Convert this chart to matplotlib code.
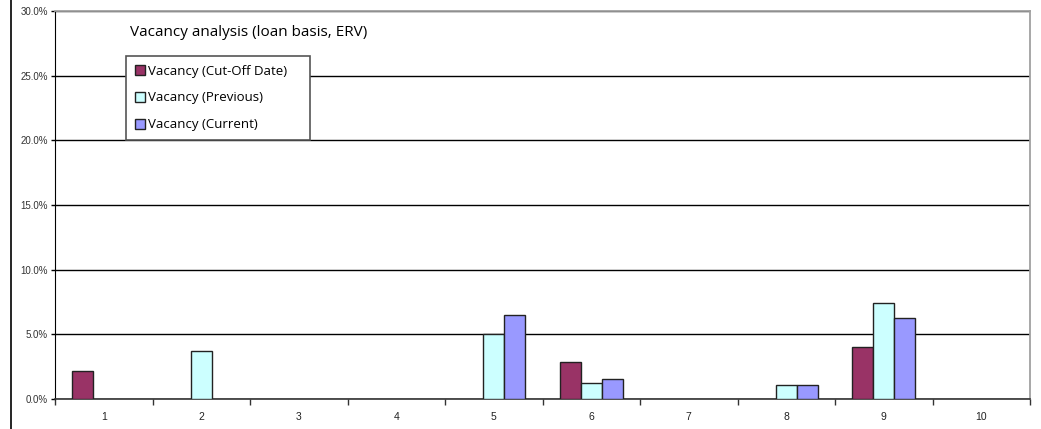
import matplotlib
matplotlib.use("Agg")
import matplotlib.pyplot as plt
from matplotlib.lines import Line2D
from matplotlib.ticker import FixedLocator, PercentFormatter
import numpy as np

categories = ["1", "2", "3", "4", "5", "6", "7", "8", "9", "10"]
vacancy_cutoff = [2.15, 0.0, 0.0, 0.0, 0.0, 2.89, 0.0, 0.0, 4.0, 0.0]
vacancy_previous = [0.0, 3.74, 0.0, 0.0, 5.0, 1.2, 0.0, 1.1, 7.46, 0.0]
vacancy_current = [0.0, 0.0, 0.0, 0.0, 6.5, 1.58, 0.0, 1.1, 6.25, 0.0]
series_labels = ["Vacancy (Cut-Off Date)", "Vacancy (Previous)", "Vacancy (Current)"]
series_colors = ["#993366", "#CCFFFF", "#9999FF"]
y_ticks = [0, 5, 10, 15, 20, 25, 30]

fig = plt.figure(figsize=(10.41, 4.29), dpi=100)
ax = fig.add_axes([55 / 1041, 30 / 429, 975 / 1041, 388 / 429])

x = np.arange(1, len(categories) + 1)
width = 0.215
series = [vacancy_cutoff, vacancy_previous, vacancy_current]
handles = []
for i, (vals, lab, col) in enumerate(zip(series, series_labels, series_colors)):
    keep = [j for j, v in enumerate(vals) if v > 0]
    ax.bar(x[keep] + (i - 1) * width, [vals[j] for j in keep], width=width,
           color=col, edgecolor="#222222", linewidth=1.0, zorder=3)
    handles.append(plt.Rectangle((0, 0), 1, 1, facecolor=col,
                                 edgecolor="#222222", linewidth=1.0))

ax.set_xlim(0.5, len(categories) + 0.5)
ax.set_ylim(0, 30)
ax.set_yticks(y_ticks)
ax.yaxis.set_major_formatter(PercentFormatter(decimals=1))
ax.set_xticks(x)
ax.set_xticklabels(categories)
ax.xaxis.set_minor_locator(FixedLocator(np.arange(0.5, len(categories) + 1, 1.0)))
ax.tick_params(axis="x", which="major", length=0, pad=9, labelsize=7.5, labelcolor="#222222")
ax.tick_params(axis="x", which="minor", length=4, width=1.0, direction="out", color="#333333")
ax.tick_params(axis="y", length=3, width=1.0, direction="out", pad=2,
               labelsize=7, labelcolor="#333333")
for lbl in ax.get_xticklabels() + ax.get_yticklabels():
    lbl.set_family("Liberation Sans")

ax.grid(axis="y", color="black", linewidth=1.0, zorder=0)
ax.set_axisbelow(True)
ax.spines["top"].set_color("#A0A0A0")
ax.spines["right"].set_color("#A0A0A0")
ax.spines["top"].set_linewidth(1.3)
ax.spines["right"].set_linewidth(1.3)
ax.spines["left"].set_color("black")
ax.spines["bottom"].set_color("#333333")
ax.spines["bottom"].set_linewidth(1.2)

fig.text(130 / 1041, 1 - 32 / 429, "Vacancy analysis (loan basis, ERV)",
         fontsize=11, family="Open Sans", va="center", ha="left", color="black")

leg = fig.legend(handles, series_labels, loc="upper left", mode="expand",
                 bbox_to_anchor=(126 / 1041, 1 - 137 / 429, 184 / 1041, 81 / 429),
                 bbox_transform=fig.transFigure,
                 prop={"family": "Open Sans", "size": 9.5},
                 fancybox=False, framealpha=1, edgecolor="#555555",
                 handlelength=0.8, handleheight=0.8, handletextpad=0.2,
                 labelspacing=1.05, borderpad=0.65, borderaxespad=0)
leg.get_frame().set_linewidth(1.2)
leg.set_zorder(5)

fig.add_artist(Line2D([10.5 / 1041, 10.5 / 1041], [0, 1], transform=fig.transFigure,
                      color="black", linewidth=1.2))

fig.savefig("out.png", dpi=100)
